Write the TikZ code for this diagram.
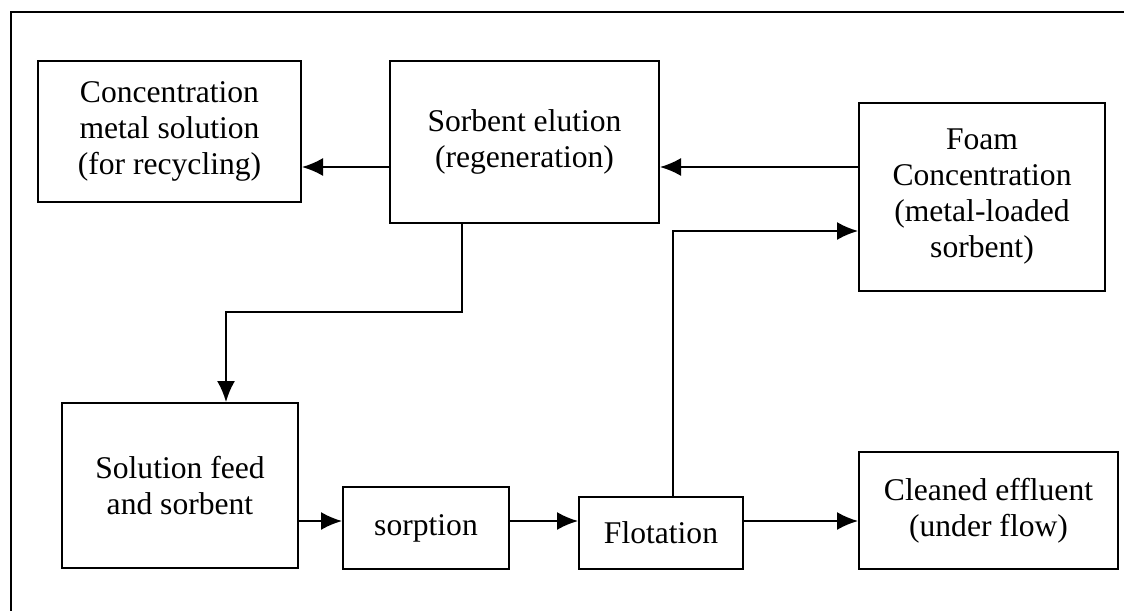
\documentclass[tikz,border=0pt]{standalone}
\usepackage{fontspec}
\setmainfont{Liberation Serif}
\usetikzlibrary{arrows.meta}
\begin{document}
\begin{tikzpicture}[x=0.5pt,y=-0.5pt,
  stage/.style={draw, line width=1pt, align=center, inner sep=0pt,
    font=\fontsize{15.8pt}{18pt}\selectfont},
  flow/.style={line width=1pt, -{Latex[length=10.5pt,width=9pt]}},
  plain/.style={line width=1pt}]
\useasboundingbox (0,0) rectangle (1124,611);
% outer frame (runs off the page to the right and bottom)
\draw[plain] (1124,12) -- (11,12) -- (11,611);

% process stages
\node[stage, minimum width=263*0.5pt, minimum height=141*0.5pt] (conc) at (169.5,131.5)
  {Concentration\\metal solution\\(for recycling)};
\node[stage, minimum width=269*0.5pt, minimum height=162*0.5pt] (elu) at (524.5,142)
  {Sorbent elution\\(regeneration)};
\node[stage, minimum width=246*0.5pt, minimum height=188*0.5pt] (foam) at (982,197)
  {Foam\\Concentration\\(metal-loaded\\sorbent)};
\node[stage, minimum width=236*0.5pt, minimum height=165*0.5pt] (sol) at (180,485.5)
  {Solution feed\\and sorbent};
\node[stage, minimum width=166*0.5pt, minimum height=82*0.5pt] (sorp) at (426,528)
  {sorption};
\node[stage, minimum width=164*0.5pt, minimum height=72*0.5pt] (flot) at (661,533)
  {Flotation};
\node[stage, minimum width=259*0.5pt, minimum height=117*0.5pt] (clean) at (988.5,510.5)
  {Cleaned effluent\\(under flow)};

% routing levels
\coordinate (top) at (0,167);
\coordinate (bot) at (0,521);
\coordinate (eluout) at (462,0);
\coordinate (mid) at (0,312);
\coordinate (solin) at (226,0);
\coordinate (flotout) at (673,0);
\coordinate (foamin) at (0,231);

% connectors
\draw[flow] (foam.west |- top) -- (elu.east |- top);
\draw[flow] (elu.west |- top) -- (conc.east |- top);
\draw[flow] (elu.south -| eluout) -- (eluout |- mid) -- (solin |- mid) -- (sol.north -| solin);
\draw[flow] (sol.east |- bot) -- (sorp.west |- bot);
\draw[flow] (sorp.east |- bot) -- (flot.west |- bot);
\draw[flow] (flot.east |- bot) -- (clean.west |- bot);
\draw[flow] (flot.north -| flotout) -- (flotout |- foamin) -- (foam.west |- foamin);
\end{tikzpicture}
\end{document}
